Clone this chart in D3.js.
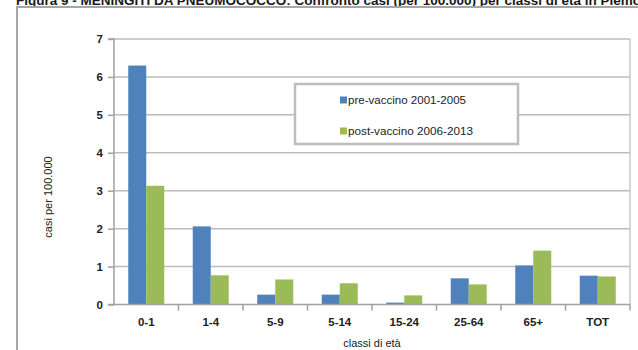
<!DOCTYPE html>
<html><head><meta charset="utf-8">
<script src="https://cdn.jsdelivr.net/npm/d3@7"></script>
<style>body{margin:0;background:#fff}svg{display:block}</style>
</head><body>
<svg id="c" width="638" height="350"></svg>
<script>
const categories = ["0-1","1-4","5-9","5-14","15-24","25-64","65+","TOT"];
const preVaccino = [6.3, 2.06, 0.26, 0.26, 0.05, 0.69, 1.03, 0.76];
const postVaccino = [3.13, 0.77, 0.66, 0.56, 0.24, 0.53, 1.42, 0.74];
const seriesNames = ["pre-vaccino 2001-2005", "post-vaccino 2006-2013"];
const seriesColors = ["#4f81bd", "#9bbb59"];
const yTicks = [0,1,2,3,4,5,6,7];

(function () {
const svg = d3.select("#c");
const font = "'Liberation Sans', Arial, sans-serif";

// title (cut at top, as in the reference)
svg.append("text").attr("x", 16).attr("y", 5)
  .attr("font-family", font).attr("font-weight", "bold").attr("font-size", 13.5)
  .attr("fill", "#1a1a1a")
  .text("Figura 9 - MENINGITI DA PNEUMOCOCCO: Confronto casi (per 100.000) per classi di età in Piemonte");

// outer frame
svg.append("path").attr("d", "M17,352 L17,7 L640,7")
  .attr("fill", "none").attr("stroke", "#a6a6a6").attr("stroke-width", 2);

const pLeft = 114, pRight = 630, pTop = 39, pBottom = 304.5;
const x = d3.scaleBand().domain(categories).range([pLeft, pRight]).paddingInner(0).paddingOuter(0);
const y = d3.scaleLinear().domain([0, 7]).range([pBottom, pTop]);

// gridlines
svg.append("g").selectAll("line").data(yTicks.filter(d => d > 0)).join("line")
  .attr("x1", pLeft).attr("x2", pRight).attr("y1", d => y(d)).attr("y2", d => y(d))
  .attr("stroke", "#bcbcbc").attr("stroke-width", 1.5);
// right border of plot
svg.append("line").attr("x1", pRight).attr("x2", pRight).attr("y1", pTop).attr("y2", pBottom)
  .attr("stroke", "#c8c8c8").attr("stroke-width", 1.5);

// bars
const bw = 18;
[preVaccino, postVaccino].forEach((vals, si) => {
  svg.append("g").selectAll("rect").data(categories).join("rect")
    .attr("x", (d) => x(d) + x.bandwidth() / 2 - bw + si * bw)
    .attr("width", bw)
    .attr("y", (d, i) => y(vals[i]))
    .attr("height", (d, i) => y(0) - y(vals[i]))
    .attr("fill", seriesColors[si]);
});

// y axis
const yAxis = svg.append("g").attr("transform", `translate(${pLeft},0)`)
  .call(d3.axisLeft(y).tickValues(yTicks).tickSize(6).tickPadding(5).tickFormat(d3.format("d")));
yAxis.select(".domain").attr("stroke", "#a0a0a0").attr("stroke-width", 1.5).attr("d", `M-6,${pTop}H0V${pBottom}`);
yAxis.selectAll(".tick line").attr("stroke", "#a0a0a0").attr("stroke-width", 1.5);
yAxis.selectAll(".tick text").attr("font-family", font).attr("font-weight", "bold")
  .attr("font-size", 11.5).attr("fill", "#222");

// x axis
const xAxis = svg.append("g").attr("transform", `translate(0,${pBottom})`)
  .call(d3.axisBottom(x).tickSize(0).tickPadding(13));
xAxis.select(".domain").remove();
xAxis.selectAll(".tick text").attr("font-family", font).attr("font-weight", "bold")
  .attr("font-size", 11.5).attr("fill", "#222");
svg.append("line").attr("x1", pLeft - 6).attr("x2", pRight).attr("y1", pBottom).attr("y2", pBottom)
  .attr("stroke", "#a0a0a0").attr("stroke-width", 1.5);
svg.append("g").selectAll("line").data(categories).join("line")
  .attr("x1", d => x(d) + x.bandwidth()).attr("x2", d => x(d) + x.bandwidth())
  .attr("y1", pBottom).attr("y2", pBottom + 6)
  .attr("stroke", "#a0a0a0").attr("stroke-width", 1.5);

// axis titles
svg.append("text").attr("x", (pLeft + pRight) / 2).attr("y", 347)
  .attr("text-anchor", "middle").attr("font-family", font).attr("font-size", 11)
  .attr("fill", "#222").text("classi di età");
svg.append("text").attr("transform", "translate(52,197) rotate(-90)")
  .attr("text-anchor", "middle").attr("font-family", font).attr("font-size", 11)
  .attr("fill", "#222").text("casi per 100.000");

// legend
const lg = svg.append("g");
lg.append("rect").attr("x", 295).attr("y", 84).attr("width", 223).attr("height", 60)
  .attr("fill", "#fff").attr("stroke", "#bdbdbd").attr("stroke-width", 2.5);
seriesNames.forEach((n, i) => {
  const cy = 100 + i * 31;
  lg.append("rect").attr("x", 340).attr("y", cy - 3.5).attr("width", 7).attr("height", 7)
    .attr("fill", seriesColors[i]);
  lg.append("text").attr("x", 348).attr("y", cy + 3.5)
    .attr("font-family", font).attr("font-size", 10.5).attr("fill", "#222")
    .attr("textLength", i === 0 ? 118 : 125).attr("lengthAdjust", "spacingAndGlyphs")
    .text(n);
});
})();
</script>
</body></html>
